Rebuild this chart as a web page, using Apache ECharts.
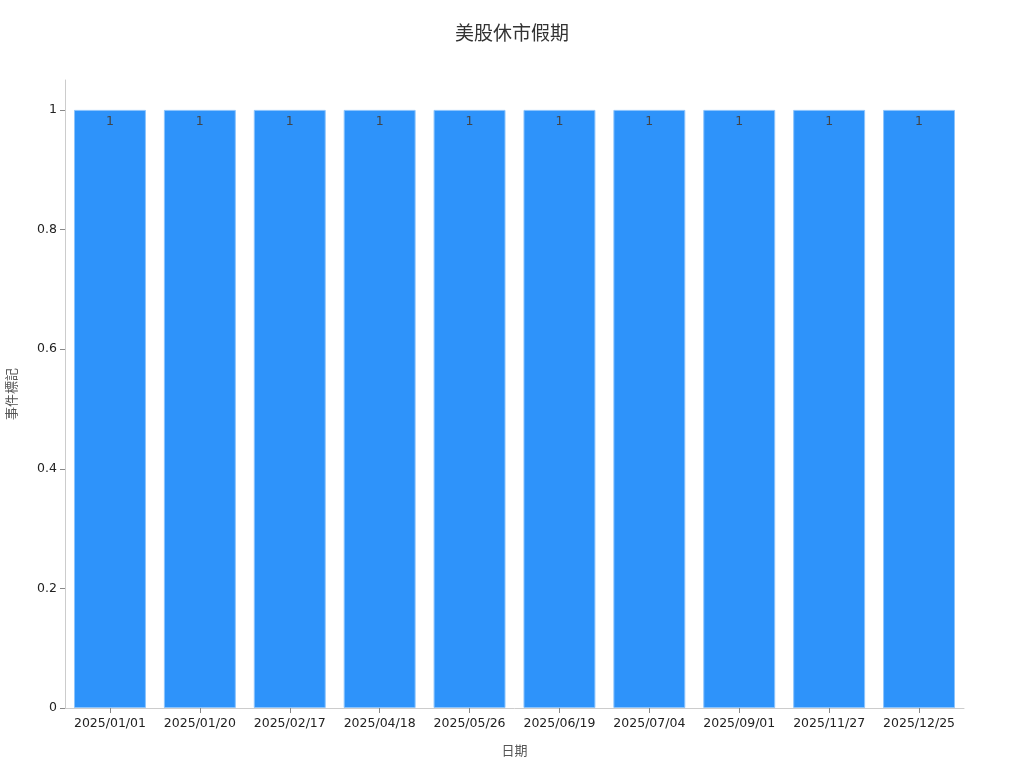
<!DOCTYPE html>
<html><head><meta charset="utf-8">
<script src="https://cdn.jsdelivr.net/npm/echarts@6/dist/echarts.min.js"></script>
<style>html,body{margin:0;padding:0;background:#fff}#c{width:1024px;height:768px}</style>
</head><body><div id="c"></div>
<script>
const categories = ['2025/01/01','2025/01/20','2025/02/17','2025/04/18','2025/05/26','2025/06/19','2025/07/04','2025/09/01','2025/11/27','2025/12/25'];
const values = [1,1,1,1,1,1,1,1,1,1];
const chart = echarts.init(document.getElementById('c'));
const font = "'DejaVu Sans','Noto Sans CJK SC',sans-serif";
chart.setOption({
  backgroundColor:'#fff',
  textStyle:{fontFamily:font},
  title:{text:'美股休市假期',left:'center',top:21,textStyle:{fontSize:19,fontWeight:'normal',color:'#333',fontFamily:font}},
  grid:{left:65,right:60,top:80,bottom:60,containLabel:false,outerBoundsMode:'none'},
  xAxis:{type:'category',data:categories,name:'日期',nameLocation:'middle',nameGap:37,
    nameTextStyle:{fontSize:13,color:'#555'},
    axisLine:{lineStyle:{color:'#ccc'}},
    axisTick:{show:true,alignWithLabel:true,interval:0,length:5,lineStyle:{color:'#888'}},
    axisLabel:{color:'#222',fontSize:12.5,margin:9,interval:0}},
  yAxis:{type:'value',min:0,max:1.05,interval:0.2,name:'事件標記',nameLocation:'middle',nameGap:46,
    nameTextStyle:{fontSize:13,color:'#555'},
    axisLine:{show:true,lineStyle:{color:'#ccc'}},axisTick:{show:true,length:5,lineStyle:{color:'#888'}},
    splitLine:{show:false},
    axisLabel:{color:'#222',fontSize:12.5,showMaxLabel:false}},
  series:[{type:'bar',data:values,barWidth:'80%',
    itemStyle:{color:'#2E93FA',borderColor:'#8cc4fc',borderWidth:1},
    label:{show:true,position:'insideTop',color:'#444',fontSize:12.5,distance:6}}]
});
</script></body></html>
